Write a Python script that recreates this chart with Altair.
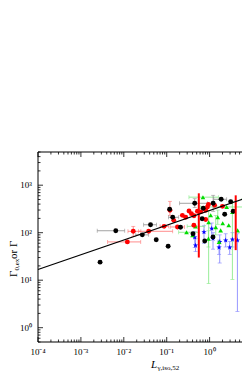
import altair as alt
import pandas as pd

# ---------------- data ----------------
black_L   = [0.0028, 0.0065, 0.027, 0.042, 0.057, 0.108, 0.117, 0.138, 0.21, 0.41, 0.45, 0.71, 0.67, 0.77, 1.21, 1.86, 2.25, 3.55, 3.1, 8.6, 1.2]
black_G   = [24, 110, 90, 147, 71, 52, 311, 211, 130, 95, 416, 326, 196, 67, 416, 505, 244, 282, 447, 628, 81]
black_Llo = [None, 0.0024, 0.019, 0.029, None, None, None, 0.11, None, None, 0.2, None, None, None, None, 1.25, None, None, None, 6.5, None]
black_Lhi = [None, 0.0105, 0.038, 0.058, None, None, None, 0.19, None, None, 0.9, None, None, None, None, 2.5, None, None, None, 11, None]
black_Glo = [None, None, None, None, None, None, None, None, None, None, 340, None, None, None, 282, None, None, None, None, 540, None]
black_Ghi = [None, None, None, None, None, None, None, None, None, None, 520, None, None, None, 613, None, None, None, None, 740, None]

red_L   = [0.0121, 0.0166, 0.038, 0.087, 0.119, 0.146, 0.178, 0.232, 0.277, 0.331, 0.377, 0.433, 0.52, 0.62, 0.81, 0.94, 0.89, 1.31, 1.99, 0.43, 0.81]
red_G   = [64, 107, 107, 136, 296, 182, 132, 232, 211, 286, 252, 227, 282, 275, 296, 391, 348, 377, 359, 143, 189]
red_Llo = [0.0042, 0.0125, 0.022, 0.07, None, None, 0.12, None, None, None, None, None, None, None, None, None, None, None, None, None, None]
red_Lhi = [0.0248, 0.025, 0.138, 0.11, None, None, 0.26, None, None, None, None, None, None, None, None, None, None, None, None, None, None]
red_Glo = [None, 84, None, None, 232, None, None, None, None, None, None, None, None, None, None, None, None, None, None, None, None]
red_Ghi = [None, 136, None, None, 458, None, None, None, None, None, None, None, None, None, None, None, None, None, None, None, None]

# wide red ranges
redbar_L   = [0.56, 4.06]
redbar_Glo = [30, 43]
redbar_Ghi = [675, 612]

green_L   = [0.29, 0.47, 0.95, 1.39, 1.81, 2.02, 1.55, 3.4, 6.3, 7.6, 0.94, 1.66, 0.40, 2.79, 4.5, 1.06, 0.7, 2.5]
green_G   = [102, 136, 166, 130, 112, 158, 211, 273, 564, 182, 75, 64, 88, 143, 112, 232, 560, 348]
green_Llo = [0.19, 0.3, None, None, None, None, None, None, None, None, None, None, None, None, None, None, 0.33, 0.6]
green_Lhi = [0.56, 0.75, None, None, None, None, None, None, None, None, None, None, None, None, None, None, 1.6, 20]
green_Glo = [None, None, 8.5, 90, None, None, 150, 10.4, None, 1.82, 50, None, None, None, None, None, None, None]
green_Ghi = [None, None, 296, 230, None, None, 300, 450, None, 300, 110, None, None, None, None, None, None, None]

blue_L   = [0.45, 0.74, 1.12, 1.2, 1.66, 1.72, 2.37, 2.94, 4.45, 7.85, 8.0, 9.1, 3.4, 0.47]
blue_G   = [80, 103, 122, 75, 49, 64, 69, 49, 69, 69, 182, 273, 72, 54]
blue_Llo = [None] * 14
blue_Lhi = [None] * 14
blue_Glo = [49, 60, 80, 45, 35, 23, 50, 35, 2.2, 50, 120, None, 50, 40]
blue_Ghi = [105, 140, 160, 100, 70, 90, 95, 65, 95, 100, 250, None, 100, 75]

# fitted relation
line_L = [1e-4, 100]
line_G = [16.8, 1220]

x_label_vals = [1e-4, 1e-3, 1e-2, 1e-1, 1, 10]
x_label_txt = ["10\u207b\u2074", "10\u207b\u00b3", "10\u207b\u00b2", "10\u207b\u00b9", "10\u2070", "10\u00b9"]
y_label_vals = [1, 10, 100, 1000]
y_label_txt = ["10\u2070", "10\u00b9", "10\u00b2", "10\u00b3"]

x_major = [1e-4, 1e-3, 1e-2, 1e-1, 1, 10]
x_minor = [k * 10.0 ** d for d in range(-4, 1) for k in range(2, 10)]
y_major = [1, 10, 100, 1000]
y_minor = [0.5, 0.6, 0.7, 0.8, 0.9] + [k * 10.0 ** d for d in range(0, 3) for k in range(2, 10)] + [2000, 3000, 4000, 5000]

# ---------------- chart ----------------
# The plot continues past the right edge of the page (as in the reference);
# the svg is kept inside the page and the marks simply run beyond it.
W, H = 204, 190
FONT = "Liberation Serif"
xscale = alt.Scale(type="log", domain=[1e-4, 5.69], nice=False)
yscale = alt.Scale(type="log", domain=[0.5, 5000], nice=False)


def frame(L, G, Llo, Lhi, Glo, Ghi):
    return pd.DataFrame({
        "L": pd.Series(L, dtype=float),
        "G": pd.Series(G, dtype=float),
        "Llo": pd.Series(Llo, dtype=float),
        "Lhi": pd.Series(Lhi, dtype=float),
        "Glo": pd.Series(Glo, dtype=float),
        "Ghi": pd.Series(Ghi, dtype=float),
    })


def X(f):
    return alt.X(f"{f}:Q", scale=xscale, axis=None)


def Y(f):
    return alt.Y(f"{f}:Q", scale=yscale, axis=None)


def err_layers(df, c):
    base = alt.Chart(df)
    bx = base.transform_filter("isValid(datum.Llo)")
    by = base.transform_filter("isValid(datum.Glo)")
    sw = 0.8
    return [
        bx.mark_rule(color=c, strokeWidth=sw).encode(x=X("Llo"), x2="Lhi:Q", y=Y("G")),
        bx.mark_tick(orient="vertical", color=c, size=4, thickness=sw).encode(x=X("Llo"), y=Y("G")),
        bx.mark_tick(orient="vertical", color=c, size=4, thickness=sw).encode(x=X("Lhi"), y=Y("G")),
        by.mark_rule(color=c, strokeWidth=sw).encode(x=X("L"), y=Y("Glo"), y2="Ghi:Q"),
        by.mark_tick(orient="horizontal", color=c, size=4, thickness=sw).encode(x=X("L"), y=Y("Glo")),
        by.mark_tick(orient="horizontal", color=c, size=4, thickness=sw).encode(x=X("L"), y=Y("Ghi")),
    ]


def pts(df, c, shape, size):
    return alt.Chart(df).mark_point(shape=shape, filled=True, color=c, size=size,
                                    opacity=1).encode(x=X("L"), y=Y("G"))


dfb = frame(black_L, black_G, black_Llo, black_Lhi, black_Glo, black_Ghi)
dfr = frame(red_L, red_G, red_Llo, red_Lhi, red_Glo, red_Ghi)
dfg = frame(green_L, green_G, green_Llo, green_Lhi, green_Glo, green_Ghi)
dfl = frame(blue_L, blue_G, blue_Llo, blue_Lhi, blue_Glo, blue_Ghi)

STAR = "M0,-1L0.24,-0.33L0.95,-0.31L0.38,0.12L0.59,0.81L0,0.4L-0.59,0.81L-0.38,0.12L-0.95,-0.31L-0.24,-0.33Z"

layers = []
layers += err_layers(dfl, "#7c7cff")
layers += err_layers(dfg, "#7fe87f")
layers += err_layers(dfr, "#ff7070")
layers += err_layers(dfb, "#8a8a8a")
layers.append(pts(dfl, "#0000ff", STAR, 30))
layers.append(pts(dfg, "#00dd00", "triangle-up", 22))
layers.append(pts(dfr, "#ff0000", "circle", 24))
layers.append(pts(dfb, "#000000", "circle", 24))

redbars = alt.Chart(pd.DataFrame({"L": redbar_L, "Glo": redbar_Glo, "Ghi": redbar_Ghi})).mark_rule(
    color="#ff0000", strokeWidth=2).encode(x=X("L"), y=Y("Glo"), y2="Ghi:Q")
layers.append(redbars)

fit = alt.Chart(pd.DataFrame({"L": line_L, "G": line_G})).mark_line(
    color="black", strokeWidth=1.2).encode(x=X("L"), y=Y("G"))
layers.append(fit)

# frame (left, top, bottom) - right side lies beyond the visible page
fr = alt.Chart(pd.DataFrame({"a": [0]}))
layers.append(fr.mark_rule(color="black", strokeWidth=1).encode(x=alt.value(0), y=alt.value(0), y2=alt.value(H)))
layers.append(fr.mark_rule(color="black", strokeWidth=1).encode(x=alt.value(0), x2=alt.value(W + 20), y=alt.value(0)))
layers.append(fr.mark_rule(color="black", strokeWidth=1).encode(x=alt.value(0), x2=alt.value(W + 20), y=alt.value(H)))


# inward ticks
def xticks(vals, ln):
    d = alt.Chart(pd.DataFrame({"v": vals}))
    return [
        d.mark_rule(color="black", strokeWidth=0.8).encode(x=alt.X("v:Q", scale=xscale, axis=None), y=alt.value(H), y2=alt.value(H - ln)),
        d.mark_rule(color="black", strokeWidth=0.8).encode(x=alt.X("v:Q", scale=xscale, axis=None), y=alt.value(0), y2=alt.value(ln)),
    ]


def yticks(vals, ln):
    d = alt.Chart(pd.DataFrame({"v": vals}))
    return [d.mark_rule(color="black", strokeWidth=0.8).encode(
        y=alt.Y("v:Q", scale=yscale, axis=None), x=alt.value(0), x2=alt.value(ln))]


layers += xticks(x_major, 5) + xticks(x_minor, 2.5)
layers += yticks(y_major, 5) + yticks(y_minor, 2.5)

# y axis labels
ylab = alt.Chart(pd.DataFrame({"v": y_label_vals, "t": y_label_txt})).mark_text(
    font=FONT, fontSize=9, baseline="middle", align="right", color="black").encode(
    y=alt.Y("v:Q", scale=yscale, axis=None), x=alt.value(-6), text="t:N")
layers.append(ylab)

# x axis labels
xlab = alt.Chart(pd.DataFrame({"v": x_label_vals, "t": x_label_txt})).mark_text(
    font=FONT, fontSize=9, baseline="alphabetic", align="center", color="black").encode(
    x=alt.X("v:Q", scale=xscale, axis=None), y=alt.value(H + 13), text="t:N")
layers.append(xlab)

# axis titles
layers.append(fr.mark_text(font=FONT, fontSize=11, fontStyle="italic", align="center", baseline="alphabetic",
                           color="black").encode(x=alt.value(116), y=alt.value(216), text=alt.value("L")))
layers.append(fr.mark_text(font=FONT, fontSize=7, align="left", baseline="alphabetic",
                           color="black").encode(x=alt.value(119.5), y=alt.value(218), text=alt.value("\u03b3,iso,52")))
layers.append(fr.mark_text(font=FONT, fontSize=11, align="left", baseline="alphabetic", angle=270,
                           color="black").encode(x=alt.value(-21.5), y=alt.value(125), text=alt.value("\u0393")))
layers.append(fr.mark_text(font=FONT, fontSize=7, align="left", baseline="alphabetic", angle=270,
                           color="black").encode(x=alt.value(-19.5), y=alt.value(118.5), text=alt.value("0,ex")))
layers.append(fr.mark_text(font=FONT, fontSize=11, align="left", baseline="alphabetic", angle=270,
                           color="black").encode(x=alt.value(-21.5), y=alt.value(107), text=alt.value("or \u0393")))

chart = alt.layer(*layers).properties(
    width=W, height=H,
    autosize=alt.AutoSizeParams(type="none"),
    padding={"left": 30, "top": 144, "right": 0, "bottom": 37},
    background="white",
).configure_view(stroke="transparent")

chart.save("out.html", embed_options={"renderer": "svg", "actions": False})
